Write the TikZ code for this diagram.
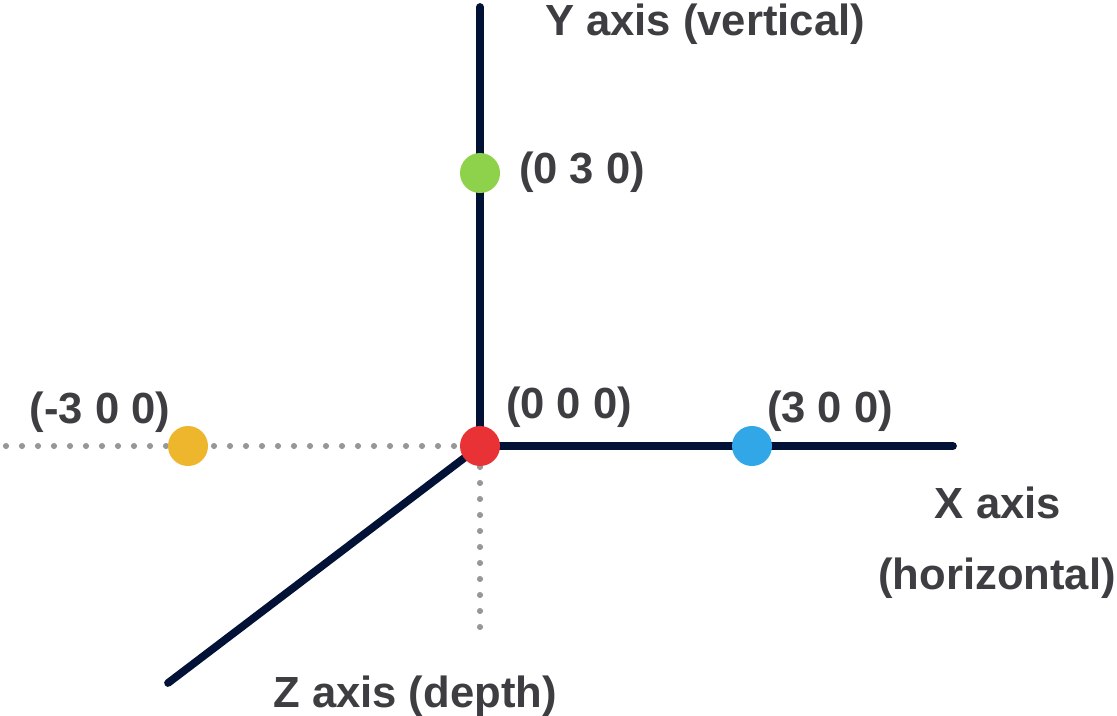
\documentclass[tikz,border=0pt]{standalone}
\usepackage{fontspec}
\setmainfont{Liberation Sans}
\usetikzlibrary{backgrounds}
\definecolor{axisnavy}{HTML}{021236}
\definecolor{guidegray}{HTML}{979797}
\definecolor{labelgray}{HTML}{3D3D42}
\definecolor{ptred}{HTML}{E83236}
\definecolor{ptblue}{HTML}{31A7E8}
\definecolor{ptgreen}{HTML}{8ED14A}
\definecolor{ptyellow}{HTML}{EEB62C}
\begin{document}
\begin{tikzpicture}[x=0.75pt,y=-0.75pt,
  axisline/.style={draw=axisnavy,line width=5.8pt,line cap=round},
  guide/.style={draw=guidegray,line width=4.6pt,line cap=round,dash pattern=on 0pt off 12pt},
  pt/.style={circle,inner sep=0pt,minimum size=30pt},
  lbl/.style={text=labelgray,font=\fontsize{32.7}{39}\selectfont\bfseries,anchor=base,inner sep=0pt}]
\useasboundingbox (0,0) rectangle (1117,715);

% points
\node[pt,fill=ptred] (o) at (480,446) {};
\node[pt,fill=ptgreen] (py) at (480,173) {};
\node[pt,fill=ptblue] (px) at (752,446) {};
\node[pt,fill=ptyellow] (pnx) at (188,446) {};

% axis end points
\coordinate (yend) at (480,7);
\coordinate (xend) at (953,446);
\coordinate (zend) at (168,683);
\coordinate (nxend) at (6,446);
\coordinate (nyend) at (480,627);

% axes and dotted guides behind the points
\begin{pgfonlayer}{background}
\draw[guide] (nxend) -- (o.center);
\draw[guide] (nyend) -- (o.center);
\draw[axisline] (o.center) -- (yend);
\draw[axisline] (o.center) -- (xend);
\draw[axisline] (o.center) -- (zend);
\end{pgfonlayer}

% labels
\node[lbl] (ylbl) at (705,35) {Y axis (vertical)};
\node[lbl] (lpy) at (582,183) {(0 3 0)};
\node[lbl] (lpnx) at (100,423) {(-3 0 0)};
\node[lbl] (lo) at (569,418) {(0 0 0)};
\node[lbl] (lpx) at (830,422) {(3 0 0)};
\node[lbl] (xlbl1) at (998,518) {X axis};
\node[lbl] (xlbl2) at (997,589) {(horizontal)};
\node[lbl] (zlbl) at (415,707) {Z axis (depth)};
\end{tikzpicture}
\end{document}
